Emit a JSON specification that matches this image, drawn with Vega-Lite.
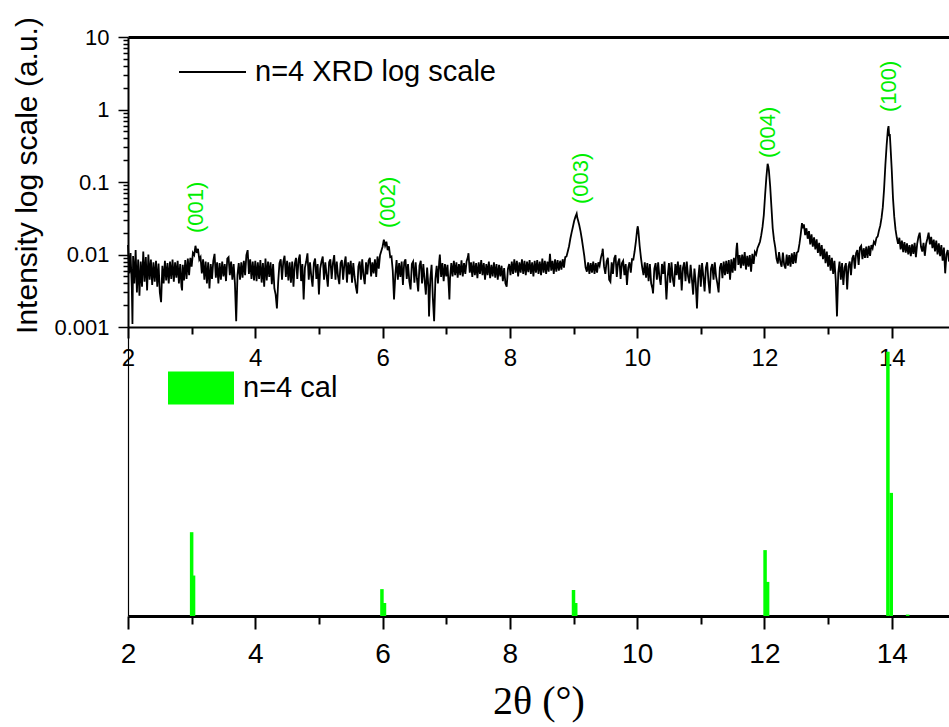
{
"$schema": "https://vega.github.io/schema/vega-lite/v6.json",
"width": 821,
"height": 579,
"autosize": {"type": "none"},
"padding": {"left": 128, "top": 37, "right": 0, "bottom": 111},
"background": "white",
"config": {"view": {"stroke": null}, "font": "Liberation Sans", "axis": {"grid": false, "labelFont": "Liberation Sans", "labelColor": "black", "domainColor": "black", "tickColor": "black", "titleColor": "black", "titleFont": "Liberation Sans"}},
"datasets": {
"xrd": [
{"x":2.00,"y":0.0135},{"x":2.02,"y":0.0055},{"x":2.04,"y":0.0105},{"x":2.06,"y":0.0035},{"x":2.07,"y":0.0011},{"x":2.08,"y":0.0095},{"x":2.10,"y":0.0040},{"x":2.12,"y":0.0115},{"x":2.14,"y":0.0030},{"x":2.16,"y":0.0085},{"x":2.18,"y":0.0027},{"x":2.20,"y":0.0080},{"x":2.22,"y":0.0036},{"x":2.24,"y":0.0110},{"x":2.26,"y":0.0042},{"x":2.28,"y":0.0092},{"x":2.30,"y":0.0032},{"x":2.32,"y":0.0100},{"x":2.34,"y":0.0045},{"x":2.36,"y":0.0085},{"x":2.38,"y":0.0038},{"x":2.40,"y":0.0078},{"x":2.42,"y":0.0042},{"x":2.44,"y":0.0082},{"x":2.46,"y":0.0036},{"x":2.48,"y":0.0075},{"x":2.50,"y":0.0030},
{"x":2.52,"y":0.0022},{"x":2.54,"y":0.0070},{"x":2.56,"y":0.0040},{"x":2.58,"y":0.0082},{"x":2.60,"y":0.0044},{"x":2.62,"y":0.0076},{"x":2.64,"y":0.0040},{"x":2.66,"y":0.0080},{"x":2.68,"y":0.0046},{"x":2.70,"y":0.0085},{"x":2.72,"y":0.0042},{"x":2.74,"y":0.0078},{"x":2.76,"y":0.0048},{"x":2.78,"y":0.0082},{"x":2.80,"y":0.0040},{"x":2.82,"y":0.0074},{"x":2.84,"y":0.0036},{"x":2.85,"y":0.0032},{"x":2.86,"y":0.0072},{"x":2.88,"y":0.0044},{"x":2.90,"y":0.0084},{"x":2.92,"y":0.0046},{"x":2.94,"y":0.0088},{"x":2.96,"y":0.0052},{"x":2.98,"y":0.0090},
{"x":3.00,"y":0.0068},{"x":3.02,"y":0.0105},{"x":3.04,"y":0.0098},{"x":3.06,"y":0.0132},{"x":3.08,"y":0.0105},{"x":3.10,"y":0.0120},{"x":3.12,"y":0.0085},{"x":3.14,"y":0.0092},{"x":3.16,"y":0.0055},{"x":3.18,"y":0.0086},{"x":3.20,"y":0.0045},{"x":3.22,"y":0.0080},{"x":3.24,"y":0.0040},{"x":3.26,"y":0.0078},{"x":3.28,"y":0.0034},{"x":3.30,"y":0.0074},{"x":3.32,"y":0.0046},{"x":3.34,"y":0.0082},{"x":3.36,"y":0.0102},{"x":3.38,"y":0.0048},{"x":3.40,"y":0.0078},{"x":3.42,"y":0.0040},{"x":3.44,"y":0.0076},{"x":3.46,"y":0.0045},{"x":3.48,"y":0.0080},{"x":3.50,"y":0.0050},{"x":3.52,"y":0.0074},{"x":3.54,"y":0.0043},{"x":3.56,"y":0.0088},{"x":3.58,"y":0.0092},{"x":3.60,"y":0.0052},{"x":3.62,"y":0.0080},{"x":3.64,"y":0.0045},{"x":3.66,"y":0.0074},{"x":3.68,"y":0.0040},{"x":3.70,"y":0.0012},{"x":3.72,"y":0.0052},{"x":3.74,"y":0.0076},{"x":3.76,"y":0.0045},{"x":3.78,"y":0.0078},{"x":3.80,"y":0.0048},{"x":3.82,"y":0.0082},{"x":3.84,"y":0.0052},{"x":3.86,"y":0.0098},{"x":3.88,"y":0.0115},{"x":3.90,"y":0.0054},{"x":3.92,"y":0.0086},{"x":3.94,"y":0.0046},{"x":3.96,"y":0.0080},{"x":3.98,"y":0.0044},
{"x":4.00,"y":0.0082},{"x":4.02,"y":0.0043},{"x":4.04,"y":0.0078},{"x":4.06,"y":0.0046},{"x":4.08,"y":0.0084},{"x":4.10,"y":0.0041},{"x":4.12,"y":0.0076},{"x":4.14,"y":0.0036},{"x":4.16,"y":0.0088},{"x":4.18,"y":0.0044},{"x":4.20,"y":0.0080},{"x":4.22,"y":0.0049},{"x":4.24,"y":0.0078},{"x":4.26,"y":0.0039},{"x":4.28,"y":0.0074},{"x":4.30,"y":0.0034},{"x":4.32,"y":0.0028},{"x":4.34,"y":0.0018},{"x":4.36,"y":0.0042},{"x":4.38,"y":0.0076},{"x":4.40,"y":0.0086},{"x":4.42,"y":0.0045},{"x":4.44,"y":0.0080},{"x":4.46,"y":0.0096},{"x":4.48,"y":0.0049},{"x":4.50,"y":0.0082},{"x":4.52,"y":0.0044},{"x":4.54,"y":0.0078},{"x":4.56,"y":0.0041},{"x":4.58,"y":0.0080},{"x":4.60,"y":0.0036},{"x":4.62,"y":0.0074},{"x":4.64,"y":0.0090},{"x":4.66,"y":0.0046},{"x":4.68,"y":0.0084},{"x":4.70,"y":0.0100},{"x":4.72,"y":0.0043},{"x":4.74,"y":0.0074},{"x":4.76,"y":0.0024},{"x":4.78,"y":0.0066},{"x":4.80,"y":0.0080},{"x":4.82,"y":0.0104},{"x":4.84,"y":0.0045},{"x":4.86,"y":0.0078},{"x":4.88,"y":0.0050},{"x":4.90,"y":0.0036},{"x":4.92,"y":0.0076},{"x":4.94,"y":0.0088},{"x":4.96,"y":0.0046},{"x":4.98,"y":0.0074},
{"x":5.00,"y":0.0028},{"x":5.02,"y":0.0064},{"x":5.04,"y":0.0080},{"x":5.06,"y":0.0094},{"x":5.08,"y":0.0045},{"x":5.10,"y":0.0078},{"x":5.12,"y":0.0052},{"x":5.14,"y":0.0036},{"x":5.16,"y":0.0078},{"x":5.18,"y":0.0086},{"x":5.20,"y":0.0046},{"x":5.22,"y":0.0076},{"x":5.24,"y":0.0098},{"x":5.26,"y":0.0045},{"x":5.28,"y":0.0080},{"x":5.30,"y":0.0050},{"x":5.32,"y":0.0039},{"x":5.34,"y":0.0076},{"x":5.36,"y":0.0084},{"x":5.38,"y":0.0045},{"x":5.40,"y":0.0074},{"x":5.42,"y":0.0094},{"x":5.44,"y":0.0041},{"x":5.46,"y":0.0078},{"x":5.48,"y":0.0053},{"x":5.50,"y":0.0082},{"x":5.52,"y":0.0041},{"x":5.54,"y":0.0076},{"x":5.56,"y":0.0049},{"x":5.58,"y":0.0036},{"x":5.60,"y":0.0029},{"x":5.62,"y":0.0068},{"x":5.64,"y":0.0080},{"x":5.66,"y":0.0045},{"x":5.68,"y":0.0086},{"x":5.70,"y":0.0052},{"x":5.72,"y":0.0039},{"x":5.74,"y":0.0078},{"x":5.76,"y":0.0053},{"x":5.78,"y":0.0082},{"x":5.80,"y":0.0090},{"x":5.82,"y":0.0050},{"x":5.84,"y":0.0078},{"x":5.86,"y":0.0055},{"x":5.88,"y":0.0086},{"x":5.90,"y":0.0049},{"x":5.92,"y":0.0094},{"x":5.94,"y":0.0064},{"x":5.96,"y":0.0098},{"x":5.98,"y":0.0112},
{"x":6.00,"y":0.0128},{"x":6.02,"y":0.0160},{"x":6.04,"y":0.0132},{"x":6.06,"y":0.0150},{"x":6.08,"y":0.0115},{"x":6.10,"y":0.0130},{"x":6.12,"y":0.0092},{"x":6.14,"y":0.0094},{"x":6.16,"y":0.0060},{"x":6.18,"y":0.0024},{"x":6.20,"y":0.0052},{"x":6.22,"y":0.0084},{"x":6.24,"y":0.0045},{"x":6.26,"y":0.0076},{"x":6.28,"y":0.0049},{"x":6.30,"y":0.0080},{"x":6.32,"y":0.0038},{"x":6.34,"y":0.0078},{"x":6.36,"y":0.0086},{"x":6.38,"y":0.0046},{"x":6.40,"y":0.0074},{"x":6.42,"y":0.0043},{"x":6.44,"y":0.0033},{"x":6.46,"y":0.0074},{"x":6.48,"y":0.0080},{"x":6.50,"y":0.0041},{"x":6.52,"y":0.0078},{"x":6.54,"y":0.0046},{"x":6.56,"y":0.0031},{"x":6.58,"y":0.0070},{"x":6.60,"y":0.0082},{"x":6.62,"y":0.0040},{"x":6.64,"y":0.0074},{"x":6.66,"y":0.0045},{"x":6.68,"y":0.0028},{"x":6.70,"y":0.0066},{"x":6.72,"y":0.0036},{"x":6.73,"y":0.0014},{"x":6.75,"y":0.0046},{"x":6.77,"y":0.0072},{"x":6.79,"y":0.0025},{"x":6.81,"y":0.0012},{"x":6.83,"y":0.0046},{"x":6.85,"y":0.0070},{"x":6.87,"y":0.0040},{"x":6.89,"y":0.0080},{"x":6.90,"y":0.0100},{"x":6.92,"y":0.0049},{"x":6.94,"y":0.0076},{"x":6.96,"y":0.0043},{"x":6.98,"y":0.0074},
{"x":7.00,"y":0.0050},{"x":7.02,"y":0.0072},{"x":7.04,"y":0.0036},{"x":7.05,"y":0.0024},{"x":7.06,"y":0.0047},{"x":7.08,"y":0.0076},{"x":7.10,"y":0.0050},{"x":7.12,"y":0.0082},{"x":7.14,"y":0.0052},{"x":7.16,"y":0.0078},{"x":7.18,"y":0.0048},{"x":7.20,"y":0.0074},{"x":7.22,"y":0.0052},{"x":7.24,"y":0.0083},{"x":7.26,"y":0.0050},{"x":7.28,"y":0.0076},{"x":7.30,"y":0.0054},{"x":7.32,"y":0.0080},{"x":7.34,"y":0.0092},{"x":7.35,"y":0.0104},{"x":7.37,"y":0.0056},{"x":7.39,"y":0.0078},{"x":7.41,"y":0.0049},{"x":7.43,"y":0.0080},{"x":7.45,"y":0.0052},{"x":7.47,"y":0.0076},{"x":7.49,"y":0.0047},{"x":7.51,"y":0.0078},{"x":7.53,"y":0.0054},{"x":7.55,"y":0.0084},{"x":7.57,"y":0.0052},{"x":7.59,"y":0.0076},{"x":7.61,"y":0.0045},{"x":7.63,"y":0.0074},{"x":7.65,"y":0.0052},{"x":7.67,"y":0.0080},{"x":7.69,"y":0.0047},{"x":7.71,"y":0.0072},{"x":7.73,"y":0.0050},{"x":7.75,"y":0.0078},{"x":7.77,"y":0.0048},{"x":7.79,"y":0.0074},{"x":7.81,"y":0.0045},{"x":7.83,"y":0.0072},{"x":7.85,"y":0.0050},{"x":7.87,"y":0.0070},{"x":7.89,"y":0.0043},{"x":7.91,"y":0.0065},{"x":7.93,"y":0.0040},{"x":7.95,"y":0.0036},{"x":7.97,"y":0.0064},
{"x":7.99,"y":0.0074},{"x":8.01,"y":0.0052},{"x":8.03,"y":0.0080},{"x":8.05,"y":0.0054},{"x":8.07,"y":0.0086},{"x":8.09,"y":0.0056},{"x":8.11,"y":0.0082},{"x":8.13,"y":0.0050},{"x":8.15,"y":0.0078},{"x":8.17,"y":0.0056},{"x":8.19,"y":0.0086},{"x":8.21,"y":0.0054},{"x":8.23,"y":0.0082},{"x":8.25,"y":0.0052},{"x":8.27,"y":0.0080},{"x":8.29,"y":0.0057},{"x":8.31,"y":0.0084},{"x":8.33,"y":0.0054},{"x":8.35,"y":0.0078},{"x":8.37,"y":0.0050},{"x":8.39,"y":0.0082},{"x":8.41,"y":0.0056},{"x":8.43,"y":0.0084},{"x":8.45,"y":0.0054},{"x":8.47,"y":0.0080},{"x":8.49,"y":0.0052},{"x":8.51,"y":0.0088},{"x":8.53,"y":0.0056},{"x":8.55,"y":0.0082},{"x":8.57,"y":0.0054},{"x":8.59,"y":0.0080},{"x":8.61,"y":0.0058},{"x":8.63,"y":0.0102},{"x":8.65,"y":0.0060},{"x":8.67,"y":0.0082},{"x":8.69,"y":0.0054},{"x":8.71,"y":0.0086},{"x":8.73,"y":0.0058},{"x":8.75,"y":0.0084},{"x":8.77,"y":0.0060},{"x":8.79,"y":0.0082},{"x":8.81,"y":0.0062},{"x":8.83,"y":0.0086},{"x":8.85,"y":0.0066},{"x":8.87,"y":0.0092},{"x":8.89,"y":0.0094},
{"x":8.91,"y":0.0110},{"x":8.93,"y":0.0130},{"x":8.95,"y":0.0165},{"x":8.97,"y":0.0200},{"x":8.99,"y":0.0240},{"x":9.01,"y":0.0290},{"x":9.03,"y":0.0330},{"x":9.05,"y":0.0365},{"x":9.06,"y":0.0320},{"x":9.07,"y":0.0300},{"x":9.09,"y":0.0255},{"x":9.11,"y":0.0210},{"x":9.13,"y":0.0165},{"x":9.15,"y":0.0125},{"x":9.17,"y":0.0095},{"x":9.19,"y":0.0066},{"x":9.21,"y":0.0058},{"x":9.23,"y":0.0078},{"x":9.25,"y":0.0054},{"x":9.27,"y":0.0076},{"x":9.29,"y":0.0056},{"x":9.31,"y":0.0080},{"x":9.33,"y":0.0054},{"x":9.35,"y":0.0076},{"x":9.37,"y":0.0056},{"x":9.39,"y":0.0078},{"x":9.41,"y":0.0070},{"x":9.43,"y":0.0090},{"x":9.45,"y":0.0105},{"x":9.46,"y":0.0120},{"x":9.48,"y":0.0068},{"x":9.50,"y":0.0054},{"x":9.52,"y":0.0080},{"x":9.54,"y":0.0090},{"x":9.56,"y":0.0045},{"x":9.58,"y":0.0042},{"x":9.60,"y":0.0078},{"x":9.62,"y":0.0054},{"x":9.64,"y":0.0088},{"x":9.66,"y":0.0098},{"x":9.68,"y":0.0049},{"x":9.70,"y":0.0078},{"x":9.72,"y":0.0088},{"x":9.74,"y":0.0046},{"x":9.76,"y":0.0076},{"x":9.78,"y":0.0082},{"x":9.80,"y":0.0052},{"x":9.82,"y":0.0074},{"x":9.84,"y":0.0038},{"x":9.86,"y":0.0066},{"x":9.88,"y":0.0078},{"x":9.90,"y":0.0056},{"x":9.92,"y":0.0086},{"x":9.94,"y":0.0085},{"x":9.96,"y":0.0110},{"x":9.98,"y":0.0150},{"x":10.00,"y":0.0220},{"x":10.01,"y":0.0245},{"x":10.02,"y":0.0210},{"x":10.04,"y":0.0130},{"x":10.06,"y":0.0090},{"x":10.08,"y":0.0066},
{"x":10.10,"y":0.0052},{"x":10.12,"y":0.0078},{"x":10.14,"y":0.0048},{"x":10.16,"y":0.0076},{"x":10.18,"y":0.0043},{"x":10.20,"y":0.0074},{"x":10.22,"y":0.0040},{"x":10.24,"y":0.0034},{"x":10.25,"y":0.0029},{"x":10.27,"y":0.0064},{"x":10.29,"y":0.0076},{"x":10.31,"y":0.0045},{"x":10.33,"y":0.0078},{"x":10.35,"y":0.0049},{"x":10.37,"y":0.0038},{"x":10.39,"y":0.0074},{"x":10.41,"y":0.0054},{"x":10.43,"y":0.0080},{"x":10.45,"y":0.0036},{"x":10.46,"y":0.0024},{"x":10.48,"y":0.0050},{"x":10.50,"y":0.0076},{"x":10.52,"y":0.0041},{"x":10.54,"y":0.0078},{"x":10.56,"y":0.0046},{"x":10.58,"y":0.0036},{"x":10.60,"y":0.0074},{"x":10.62,"y":0.0052},{"x":10.64,"y":0.0080},{"x":10.66,"y":0.0045},{"x":10.68,"y":0.0072},{"x":10.70,"y":0.0032},{"x":10.72,"y":0.0066},{"x":10.74,"y":0.0078},{"x":10.76,"y":0.0043},{"x":10.78,"y":0.0080},{"x":10.80,"y":0.0050},{"x":10.82,"y":0.0040},{"x":10.84,"y":0.0072},{"x":10.86,"y":0.0046},{"x":10.88,"y":0.0028},{"x":10.90,"y":0.0064},{"x":10.92,"y":0.0041},{"x":10.94,"y":0.0018},{"x":10.96,"y":0.0047},{"x":10.98,"y":0.0072},
{"x":11.00,"y":0.0036},{"x":11.02,"y":0.0076},{"x":11.04,"y":0.0050},{"x":11.06,"y":0.0031},{"x":11.08,"y":0.0066},{"x":11.10,"y":0.0078},{"x":11.12,"y":0.0043},{"x":11.14,"y":0.0029},{"x":11.16,"y":0.0064},{"x":11.18,"y":0.0074},{"x":11.20,"y":0.0045},{"x":11.22,"y":0.0078},{"x":11.24,"y":0.0050},{"x":11.26,"y":0.0040},{"x":11.28,"y":0.0030},{"x":11.30,"y":0.0066},{"x":11.32,"y":0.0076},{"x":11.34,"y":0.0047},{"x":11.36,"y":0.0080},{"x":11.38,"y":0.0052},{"x":11.40,"y":0.0082},{"x":11.42,"y":0.0054},{"x":11.44,"y":0.0084},{"x":11.46,"y":0.0045},{"x":11.48,"y":0.0086},{"x":11.50,"y":0.0056},{"x":11.52,"y":0.0090},{"x":11.54,"y":0.0060},{"x":11.56,"y":0.0120},{"x":11.57,"y":0.0145},
{"x":11.59,"y":0.0072},{"x":11.61,"y":0.0098},{"x":11.63,"y":0.0065},{"x":11.65,"y":0.0100},{"x":11.67,"y":0.0070},{"x":11.69,"y":0.0108},{"x":11.71,"y":0.0062},{"x":11.73,"y":0.0096},{"x":11.75,"y":0.0068},{"x":11.77,"y":0.0098},{"x":11.79,"y":0.0058},{"x":11.81,"y":0.0102},{"x":11.83,"y":0.0074},{"x":11.85,"y":0.0108},{"x":11.87,"y":0.0100},{"x":11.89,"y":0.0122},{"x":11.91,"y":0.0135},{"x":11.93,"y":0.0150},{"x":11.95,"y":0.0185},{"x":11.97,"y":0.0240},{"x":11.99,"y":0.0350},
{"x":12.01,"y":0.0650},{"x":12.03,"y":0.1150},{"x":12.05,"y":0.1780},{"x":12.06,"y":0.1650},{"x":12.07,"y":0.1450},{"x":12.09,"y":0.0880},{"x":12.11,"y":0.0450},{"x":12.13,"y":0.0230},{"x":12.15,"y":0.0160},{"x":12.17,"y":0.0125},{"x":12.19,"y":0.0088},{"x":12.21,"y":0.0075},{"x":12.23,"y":0.0108},{"x":12.25,"y":0.0078},{"x":12.27,"y":0.0068},{"x":12.29,"y":0.0106},{"x":12.31,"y":0.0072},{"x":12.33,"y":0.0064},{"x":12.35,"y":0.0100},{"x":12.37,"y":0.0070},{"x":12.39,"y":0.0098},{"x":12.41,"y":0.0068},{"x":12.43,"y":0.0104},{"x":12.45,"y":0.0074},{"x":12.47,"y":0.0108},{"x":12.49,"y":0.0076},{"x":12.51,"y":0.0106},{"x":12.53,"y":0.0110},{"x":12.55,"y":0.0140},{"x":12.57,"y":0.0190},{"x":12.59,"y":0.0270},{"x":12.60,"y":0.0230},{"x":12.62,"y":0.0260},{"x":12.64,"y":0.0185},{"x":12.66,"y":0.0230},{"x":12.68,"y":0.0165},{"x":12.70,"y":0.0210},{"x":12.72,"y":0.0138},{"x":12.74,"y":0.0190},{"x":12.76,"y":0.0128},{"x":12.78,"y":0.0172},{"x":12.80,"y":0.0118},{"x":12.82,"y":0.0162},{"x":12.84,"y":0.0105},{"x":12.86,"y":0.0145},{"x":12.88,"y":0.0095},{"x":12.90,"y":0.0135},{"x":12.92,"y":0.0086},{"x":12.94,"y":0.0120},{"x":12.96,"y":0.0076},{"x":12.98,"y":0.0110},
{"x":13.00,"y":0.0068},{"x":13.02,"y":0.0098},{"x":13.04,"y":0.0060},{"x":13.06,"y":0.0090},{"x":13.08,"y":0.0054},{"x":13.10,"y":0.0082},{"x":13.12,"y":0.0045},{"x":13.14,"y":0.0014},{"x":13.16,"y":0.0056},{"x":13.18,"y":0.0080},{"x":13.20,"y":0.0045},{"x":13.22,"y":0.0076},{"x":13.24,"y":0.0038},{"x":13.26,"y":0.0066},{"x":13.28,"y":0.0076},{"x":13.30,"y":0.0033},{"x":13.32,"y":0.0068},{"x":13.34,"y":0.0080},{"x":13.36,"y":0.0052},{"x":13.38,"y":0.0088},{"x":13.40,"y":0.0098},{"x":13.42,"y":0.0064},{"x":13.44,"y":0.0104},{"x":13.46,"y":0.0115},{"x":13.48,"y":0.0072},{"x":13.50,"y":0.0125},{"x":13.52,"y":0.0132},{"x":13.54,"y":0.0086},{"x":13.56,"y":0.0122},{"x":13.58,"y":0.0090},{"x":13.60,"y":0.0128},{"x":13.62,"y":0.0090},{"x":13.64,"y":0.0132},{"x":13.66,"y":0.0096},{"x":13.68,"y":0.0135},{"x":13.70,"y":0.0122},{"x":13.72,"y":0.0150},{"x":13.74,"y":0.0140},{"x":13.76,"y":0.0170},{"x":13.78,"y":0.0178},{"x":13.80,"y":0.0215},{"x":13.82,"y":0.0250},
{"x":13.84,"y":0.0320},{"x":13.86,"y":0.0450},{"x":13.88,"y":0.0800},{"x":13.90,"y":0.1700},{"x":13.92,"y":0.3200},{"x":13.94,"y":0.5300},{"x":13.95,"y":0.5900},{"x":13.96,"y":0.4300},{"x":13.97,"y":0.4600},{"x":13.98,"y":0.3200},{"x":14.00,"y":0.1500},{"x":14.02,"y":0.0600},{"x":14.04,"y":0.0330},{"x":14.06,"y":0.0220},{"x":14.08,"y":0.0170},{"x":14.10,"y":0.0140},{"x":14.12,"y":0.0170},{"x":14.14,"y":0.0118},{"x":14.16,"y":0.0155},{"x":14.18,"y":0.0108},{"x":14.20,"y":0.0148},{"x":14.22,"y":0.0106},{"x":14.24,"y":0.0142},{"x":14.26,"y":0.0100},{"x":14.28,"y":0.0135},{"x":14.30,"y":0.0095},{"x":14.32,"y":0.0138},{"x":14.34,"y":0.0102},{"x":14.36,"y":0.0145},{"x":14.38,"y":0.0092},{"x":14.40,"y":0.0140},{"x":14.42,"y":0.0175},{"x":14.44,"y":0.0200},{"x":14.46,"y":0.0128},{"x":14.48,"y":0.0110},{"x":14.50,"y":0.0145},{"x":14.52,"y":0.0096},{"x":14.54,"y":0.0140},{"x":14.56,"y":0.0165},{"x":14.58,"y":0.0200},{"x":14.60,"y":0.0138},{"x":14.62,"y":0.0175},{"x":14.64,"y":0.0122},{"x":14.66,"y":0.0160},{"x":14.68,"y":0.0110},{"x":14.70,"y":0.0155},{"x":14.72,"y":0.0100},{"x":14.74,"y":0.0142},{"x":14.76,"y":0.0095},{"x":14.78,"y":0.0135},{"x":14.80,"y":0.0082},{"x":14.82,"y":0.0125},{"x":14.84,"y":0.0055},{"x":14.86,"y":0.0100},{"x":14.88,"y":0.0115},{"x":14.90,"y":0.0080}
],
"hkl": [
{"x":3.07,"y":0.0198,"label":"(001)"},
{"x":6.08,"y":0.0232,"label":"(002)"},
{"x":9.11,"y":0.0497,"label":"(003)"},
{"x":12.05,"y":0.214,"label":"(004)"},
{"x":13.95,"y":0.924,"label":"(100)"}
],
"cal": [
{"x":3.00,"h":29.0},{"x":3.03,"h":14.0},
{"x":5.99,"h":9.3},{"x":6.03,"h":4.5},
{"x":9.00,"h":9.0},{"x":9.035,"h":4.5},
{"x":12.01,"h":22.8},{"x":12.05,"h":11.8},
{"x":13.94,"h":91.4},{"x":13.993,"h":42.6},
{"x":14.25,"h":0.5}
]
},
"layer": [
{
"layer": [
{
"data": {"name": "xrd"},
"mark": {"type": "line", "strokeWidth": 1.8},
"encoding": {
"x": {"field": "x", "type": "quantitative", "scale": {"domain": [2, 14.9], "nice": false, "zero": false, "padding": 0},
 "axis": {"orient": "bottom", "offset": -289, "values": [2,3,4,5,6,7,8,9,10,11,12,13,14], "labelExpr": "datum.value % 2 === 0 ? datum.label : ''", "tickSize": {"condition": {"test": "datum.value % 2 === 0", "value": 11}, "value": 7}, "tickWidth": 2, "domainWidth": 2, "labelFontSize": 24, "labelPadding": 8, "title": null, "labelOverlap": false, "labelFlush": false, "labelBound": false}},
"y": {"field": "y", "type": "quantitative", "scale": {"type": "log", "domain": [0.001, 10], "range": [290, 0], "nice": false},
 "axis": {"orient": "left", "values": [0.001,0.002,0.003,0.004,0.005,0.006,0.007,0.008,0.009,0.01,0.02,0.03,0.04,0.05,0.06,0.07,0.08,0.09,0.1,0.2,0.3,0.4,0.5,0.6,0.7,0.8,0.9,1,2,3,4,5,6,7,8,9,10], "format": "~g", "labelExpr": "indexof([0.001,0.01,0.1,1,10], datum.value) >= 0 ? datum.label : ''", "tickSize": {"condition": {"test": "indexof([0.001,0.01,0.1,1,10], datum.value) >= 0", "value": 10}, "value": 5}, "tickWidth": 1.5, "domainWidth": 2, "labelFontSize": 22, "labelPadding": 9, "labelOverlap": false, "labelFlush": false, "labelBound": false, "title": "Intensity log scale (a.u.)", "titleFontSize": 30, "titleFontWeight": "normal", "titleAngle": 270, "titleBaseline": "bottom", "titleAlign": "center", "titleX": -86, "titleY": 138}},
"color": {"datum": "n=4 XRD log scale", "scale": {"range": ["black"]},
 "legend": {"orient": "none", "legendX": 50, "legendY": 0.5, "title": null, "symbolType": "stroke", "symbolSize": 4489, "symbolStrokeWidth": 1.8, "labelFontSize": 29, "labelOffset": 8, "labelLimit": 0, "labelFont": "Liberation Sans", "labelColor": "black", "padding": 0}}
}
},
{
"data": {"name": "hkl"},
"mark": {"type": "text", "angle": 270, "align": "left", "baseline": "middle", "fontSize": 22, "color": "#00ee00", "font": "Liberation Sans"},
"encoding": {
"x": {"field": "x", "type": "quantitative", "scale": {"domain": [2, 14.9], "nice": false, "zero": false, "padding": 0},
 "axis": {"orient": "top", "labels": false, "ticks": false, "title": null, "domainWidth": 3}},
"y": {"field": "y", "type": "quantitative", "scale": {"type": "log", "domain": [0.001, 10], "range": [290, 0], "nice": false},
 "axis": {"orient": "left", "values": [0.001,0.002,0.003,0.004,0.005,0.006,0.007,0.008,0.009,0.01,0.02,0.03,0.04,0.05,0.06,0.07,0.08,0.09,0.1,0.2,0.3,0.4,0.5,0.6,0.7,0.8,0.9,1,2,3,4,5,6,7,8,9,10], "format": "~g", "labelExpr": "indexof([0.001,0.01,0.1,1,10], datum.value) >= 0 ? datum.label : ''", "tickSize": {"condition": {"test": "indexof([0.001,0.01,0.1,1,10], datum.value) >= 0", "value": 10}, "value": 5}, "tickWidth": 1.5, "domainWidth": 2, "labelFontSize": 22, "labelPadding": 9, "labelOverlap": false, "labelFlush": false, "labelBound": false, "title": "Intensity log scale (a.u.)", "titleFontSize": 30, "titleFontWeight": "normal", "titleAngle": 270, "titleBaseline": "bottom", "titleAlign": "center", "titleX": -86, "titleY": 138}},
"text": {"field": "label"}
}
}
],
"resolve": {"axis": {"x": "independent"}}
},
{
"data": {"name": "cal"},
"mark": {"type": "bar", "width": 3.5},
"encoding": {
"x": {"field": "x", "type": "quantitative", "scale": {"domain": [2, 14.9], "nice": false, "zero": false, "padding": 0},
 "axis": {"orient": "bottom", "values": [2,3,4,5,6,7,8,9,10,11,12,13,14], "labelExpr": "datum.value % 2 === 0 ? datum.label : ''", "tickSize": {"condition": {"test": "datum.value % 2 === 0", "value": 13}, "value": 8}, "tickWidth": 2, "domainWidth": 3, "labelFontSize": 28, "labelPadding": 11, "labelOverlap": false, "labelFlush": false, "labelBound": false, "title": "2θ (°)", "titleFont": "Liberation Serif", "titleFontSize": 40, "titleFontWeight": "normal", "titlePadding": 13}},
"y": {"field": "h", "type": "quantitative", "scale": {"domain": [0, 100], "range": [579, 290], "nice": false},
 "axis": {"orient": "left", "labels": false, "ticks": false, "title": null, "domainWidth": 1.2}},
"color": {"datum": "n=4 cal", "scale": {"range": ["#00ff00"]},
 "legend": {"orient": "none", "legendX": 40, "legendY": 318, "title": null, "symbolType": "M-1,-0.5H1V0.5H-1Z", "symbolSize": 4356, "symbolStrokeWidth": 0, "symbolOpacity": 1, "labelFontSize": 29, "labelOffset": 9, "labelLimit": 0, "labelFont": "Liberation Sans", "labelColor": "black", "padding": 0}}
}
}
],
"resolve": {"scale": {"y": "independent", "color": "independent"}, "axis": {"x": "independent", "y": "independent"}, "legend": {"color": "independent"}}
}
